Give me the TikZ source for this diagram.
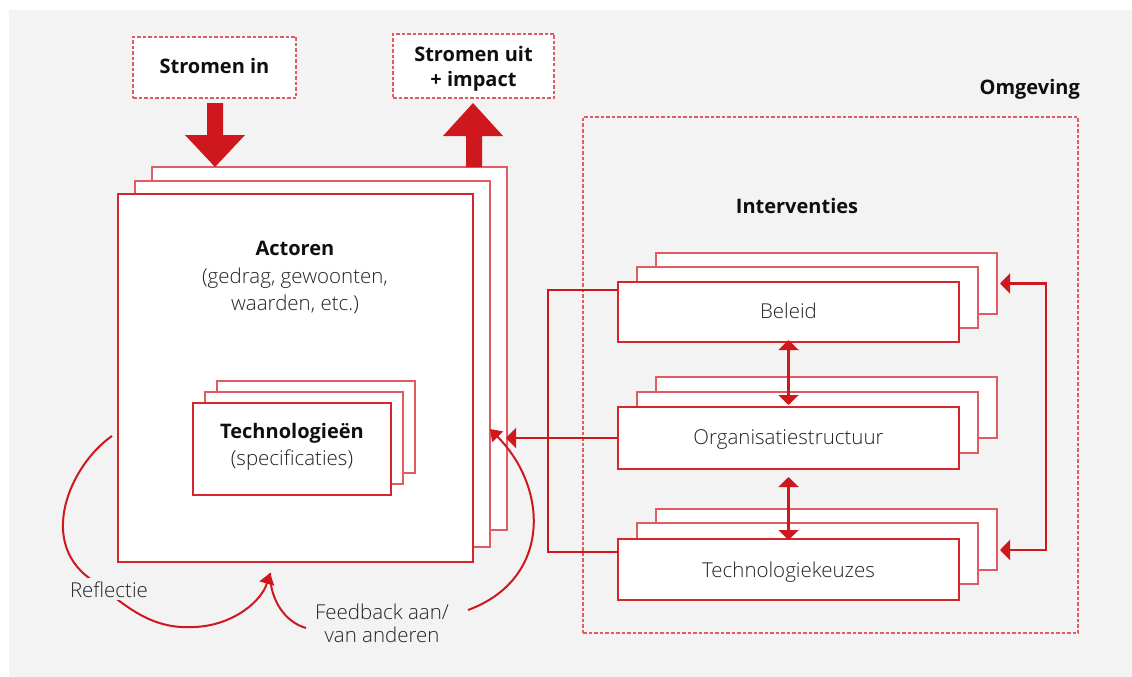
\documentclass[tikz,border=0pt]{standalone}
\usepackage{fontspec}
\setmainfont{Open Sans}
\newfontfamily\lightfont{Open Sans Light}
\usetikzlibrary{arrows.meta}
\definecolor{bg}{RGB}{243,243,243}
\definecolor{arr}{RGB}{206,24,30}
\definecolor{bord}{RGB}{214,38,44}
\definecolor{bordlt}{RGB}{225,92,98}
\definecolor{txt}{RGB}{15,15,15}
\definecolor{txtl}{RGB}{35,35,35}
\tikzset{
  box/.style={draw=bord, fill=white, line width=1.4pt, inner sep=0pt, outer sep=0pt},
  boxlt/.style={draw=bordlt, fill=white, line width=1.4pt, inner sep=0pt, outer sep=0pt},
  dbox/.style={draw=bordlt, dash pattern=on 3.5pt off 2pt, line width=1.2pt, inner sep=0pt, outer sep=0pt},
  bigarrow/.style={fill=arr, draw=none},
  arrline/.style={draw=arr, line width=2.3pt},
  curve/.style={draw=arr, line width=2pt},
  btxt/.style={font=\fontsize{20}{24}\selectfont\bfseries, text=txt, inner sep=1pt},
  ltxt/.style={font=\fontsize{20.5}{24}\selectfont\lightfont, text=txtl, inner sep=1pt},
  lbl/.style={font=\fontsize{20.5}{24}\selectfont\lightfont, text=txtl, fill=bg, inner sep=3pt, align=center},
  tipB/.tip={Triangle[length=10pt,width=20pt]},
  tipC/.tip={Triangle[length=11pt,width=15pt]}
}
\begin{document}
\begin{tikzpicture}[x=1pt,y=-1pt]
\useasboundingbox (0,0) rectangle (1132,677);
\fill[bg] (9,10) rectangle (1132,677);

% top dashed boxes
\node[dbox, fill=white, minimum width=163pt, minimum height=61pt] (in) at (214.5,67.5) {};
\node[btxt, anchor=base] (intext) at (214.5,74) {Stromen in};
\node[dbox, fill=white, minimum width=161pt, minimum height=64pt] (uit) at (473.5,66) {};
\node[btxt, anchor=base] (uit1) at (473.5,62) {Stromen uit};
\node[btxt, anchor=base] (uit2) at (473.5,86) {+ impact};

% actor stack
\node[boxlt, minimum width=355pt, minimum height=363pt] (actb) at (329.5,348.5) {};
\node[boxlt, minimum width=355pt, minimum height=366pt] (actm) at (312.5,364) {};
\node[box, minimum width=355pt, minimum height=368pt] (act) at (295.5,378) {};

% big arrows
\fill[bigarrow] (207,103) -- (223,103) -- (223,135) -- (245,135) -- (215,167) -- (185,135) -- (207,135) -- cycle;
\fill[bigarrow] (466,167) -- (482,167) -- (482,136) -- (503,136) -- (473,103) -- (443,136) -- (466,136) -- cycle;

\node[btxt, anchor=base] (actt) at (295,255) {Actoren};
\node[ltxt, anchor=base] (act2) at (295,283) {(gedrag, gewoonten,};
\node[ltxt, anchor=base] (act3) at (295,310) {waarden, etc.)};

% technologies stack
\node[boxlt, minimum width=198pt, minimum height=92pt] (techb) at (316,427) {};
\node[boxlt, minimum width=198pt, minimum height=92pt] (techm) at (304,438) {};
\node[box, minimum width=198pt, minimum height=92pt] (tech) at (292,449) {};
\node[btxt, anchor=base] (techt) at (292,438) {Technologieën};
\node[ltxt, anchor=base] (tech2) at (292,465) {(specificaties)};

% omgeving
\node[dbox, minimum width=495pt, minimum height=516pt] (omg) at (830.5,375) {};
\node[btxt, anchor=base east] (omgt) at (1081,95) {Omgeving};
\node[btxt, anchor=base] (intv) at (797,213) {Interventies};

% beleid stack
\node[boxlt, minimum width=341pt, minimum height=61pt] (belb) at (826.5,283.5) {};
\node[boxlt, minimum width=341pt, minimum height=61pt] (belm) at (807.5,297.5) {};
\node[box, minimum width=341pt, minimum height=60pt] (bel) at (788.5,312) {};
\node[ltxt, anchor=base] (belt) at (788.5,318) {Beleid};

% organisatie stack
\node[boxlt, minimum width=341pt, minimum height=61pt] (orgb) at (826.5,407.5) {};
\node[boxlt, minimum width=341pt, minimum height=61pt] (orgm) at (807.5,422.5) {};
\node[box, minimum width=341pt, minimum height=62pt] (org) at (788.5,438) {};
\node[ltxt, anchor=base] (orgt) at (788.5,444) {Organisatiestructuur};

% technologiekeuzes stack
\node[boxlt, minimum width=341pt, minimum height=61pt] (tkb) at (826.5,539.5) {};
\node[boxlt, minimum width=341pt, minimum height=61pt] (tkm) at (807.5,553.5) {};
\node[box, minimum width=341pt, minimum height=61pt] (tk) at (788.5,569.5) {};
\node[ltxt, anchor=base] (tkt) at (788.5,577) {Technologiekeuzes};

% connectors right side
\draw[arrline, tipB-tipB, shorten <=-2pt, shorten >=2pt] (bel.south) -- (org.north);
\draw[arrline, tipB-tipB, shorten <=8pt, shorten >=-1pt] (org.south) -- (tk.north);
\draw[arrline, tipB-tipB, shorten <=3pt, shorten >=3pt] (belb.east) -- ++(49,0) |- ([yshift=-10.5pt]tkb.east);
\draw[arrline] ([yshift=22pt]bel.west) -- ++(-70,0) |- ([yshift=17.5pt]tk.west);
\draw[arrline, -tipB, shorten >=-1pt] (org.west) -- (org.west -| actb.east);

% curves
\coordinate (r0) at (112,436);
\coordinate (rtip) at (270,573);
\coordinate (f0) at (306,628);
\coordinate (g0) at (468,610);
\coordinate (gtip) at (490,429);
\draw[curve, -tipC] (r0) .. controls (70,465) and (35,545) .. (95,582)
   .. controls (125,605) and (150,630) .. (195,627)
   .. controls (235,625) and (262,600) .. (rtip);
\draw[curve] (f0) .. controls (285,622) and (270,600) .. (rtip);
\draw[curve, -tipC] (g0) .. controls (550,580) and (550,490) .. (gtip);

\node[lbl, anchor=base] (refl) at (109,597) {Reflectie};
\node[lbl, anchor=base, inner sep=2pt] (fb1) at (382,619) {Feedback aan/};
\node[ltxt, anchor=base] (fb2) at (382,642) {van anderen};
\end{tikzpicture}
\end{document}
